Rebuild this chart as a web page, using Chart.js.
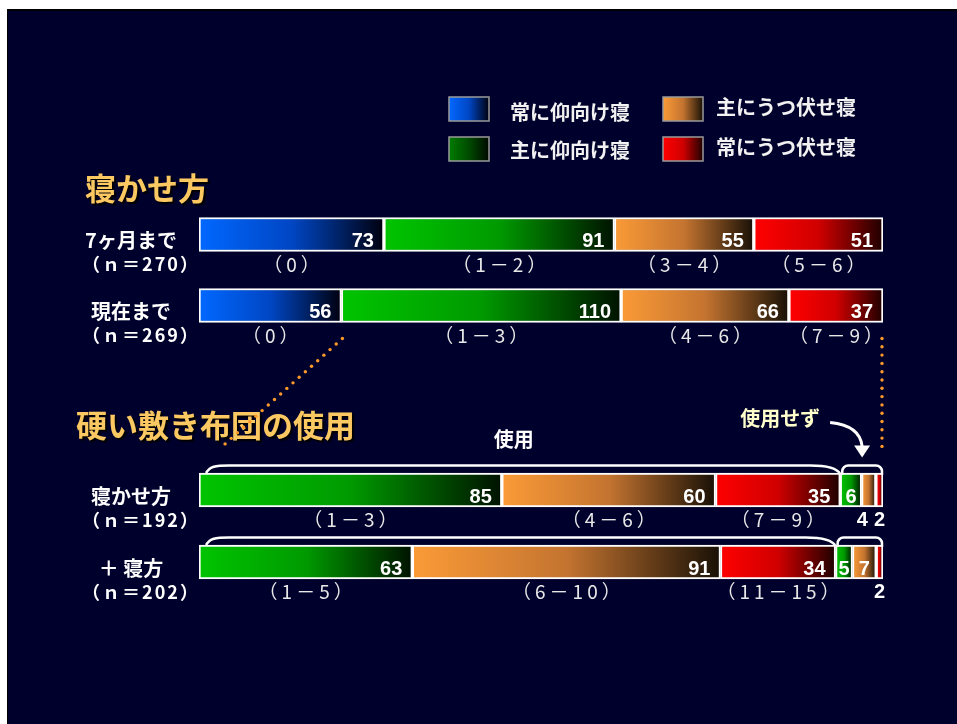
<!DOCTYPE html>
<html lang="ja">
<head>
<meta charset="utf-8">
<title>寝かせ方と硬い敷き布団の使用</title>
<script src="https://cdn.jsdelivr.net/npm/chart.js@4/dist/chart.umd.min.js"></script>
<style>
  html,body{margin:0;padding:0;background:#fff;width:957px;height:724px;overflow:hidden;}
  #slide{position:absolute;left:7px;top:9px;width:950px;height:715px;background:#00002c;
         border-top:2px solid #000;border-left:1px solid #000;box-sizing:border-box;}
  canvas{position:absolute;left:0;top:0;}
</style>
</head>
<body>
<div id="slide"></div>
<canvas id="topChart" width="957" height="724"></canvas>
<canvas id="bottomChart" width="957" height="724"></canvas>
<script>
// ---- 寝かせ方（人数）----
const topRows = ['7ヶ月まで', '現在まで'];
const alwaysSupine = [73, 56];
const mostlySupine = [91, 110];
const mostlyProne  = [55, 66];
const alwaysProne  = [51, 37];
const topRanges = [
  ['（0）', '（1－2）', '（3－4）', '（5－6）'],
  ['（0）', '（1－3）', '（4－6）', '（7－9）']
];

// ---- 硬い敷き布団の使用（人数）----
const bottomRows = ['寝かせ方', '＋ 寝方'];
const usedLow    = [85, 63];
const usedMid    = [60, 91];
const usedHigh   = [35, 34];
const unusedLow  = [6, 5];
const unusedMid  = [4, 7];
const unusedHigh = [2, 2];
const bottomRanges = [
  ['（1－3）', '（4－6）', '（7－9）'],
  ['（1－5）', '（6－10）', '（11－15）']
];

const JP = '"Noto Sans CJK JP", "Noto Sans", sans-serif';
const NUM = 'bold 20px "Liberation Sans", "DejaVu Sans", sans-serif';

// gradient stops per tone: light -> dark
const palette = {
  blue:   ['#0068ff', '#0046c4', '#00000e'],
  green:  ['#00c400', '#009a00', '#001200'],
  orange: ['#fb9b37', '#c47430', '#181006'],
  red:    ['#ff0000', '#d00000', '#1e0000']
};
const keyPalette = Object.assign({}, palette, { green: ['#007c00', '#004a00', '#000800'] });

function fillStops(g, stops){
  g.addColorStop(0, stops[0]);
  g.addColorStop(0.5, stops[1]);
  g.addColorStop(1, stops[2]);
  return g;
}

// each segment gets its own left->right gradient
function gradientFill(c){
  const chart = c.chart;
  const ds = chart.data.datasets[c.datasetIndex];
  const stops = palette[ds.tone];
  const x = chart.scales.x;
  if(c.type !== 'data' || !chart.chartArea || !x) return stops[0];
  let start = 0;
  for(let d = 0; d < c.datasetIndex; d++) start += chart.data.datasets[d].data[c.dataIndex];
  const end = start + ds.data[c.dataIndex];
  const g = chart.ctx.createLinearGradient(x.getPixelForValue(start), 0, x.getPixelForValue(end), 0);
  return fillStops(g, stops);
}

function rowTotals(series){
  return series[0].values.map((_, i) => series.reduce((s, d) => s + d.values[i], 0));
}

function makeDatasets(series, ranges){
  const totals = rowTotals(series);
  return series.map((s, d) => ({
    label: s.label,
    tone: s.tone,
    counts: s.values,
    ranges: s.ranged ? ranges.map(r => r[d]) : null,
    data: s.values.map((v, i) => v / totals[i] * 100),
    backgroundColor: gradientFill,
    borderColor: '#ffffff',
    borderWidth: 2,
    borderSkipped: false,
    barThickness: 34
  }));
}

// row names, n, values and score ranges
const rowText = {
  id: 'rowText',
  afterDatasetsDraw(chart){
    const ctx = chart.ctx, y = chart.scales.y;
    const sets = chart.data.datasets;
    ctx.save();
    ctx.fillStyle = '#ffffff';
    chart.data.labels.forEach((name, i) => {
      const cy = y.getPixelForValue(i);
      const n = sets.reduce((s, ds) => s + ds.counts[i], 0);
      ctx.textAlign = 'center';
      ctx.textBaseline = 'middle';
      ctx.font = 'bold 20px ' + JP;
      ctx.fillText(name, 131, cy + 6);
      ctx.font = 'bold 18px ' + JP;
      ctx.letterSpacing = '2px';
      ctx.fillText('（ｎ＝' + n + '）', 141, cy + 30);
      ctx.letterSpacing = '0px';

      const below = [];
      sets.forEach((ds, d) => {
        const bar = chart.getDatasetMeta(d).data[i];
        const left = Math.min(bar.base, bar.x), right = Math.max(bar.base, bar.x);
        const w = right - left;
        const txt = String(ds.counts[i]);
        ctx.font = NUM;
        const tw = ctx.measureText(txt).width;
        if(w >= 16){
          ctx.textAlign = 'right';
          ctx.textBaseline = 'alphabetic';
          const pad = Math.min(10, Math.max(1, (w - tw) / 2));
          ctx.fillText(txt, right - pad, cy + 12.5);
        }else{
          below.push({ txt, x: (left + right) / 2, w: tw });
        }
        if(ds.ranges){
          ctx.font = '19px ' + JP;
          ctx.letterSpacing = '4px';
          ctx.fillStyle = '#e8e8e8';
          ctx.textAlign = 'center';
          ctx.textBaseline = 'middle';
          ctx.fillText(ds.ranges[i], (left + right) / 2 + 2, cy + 30);
          ctx.letterSpacing = '0px';
          ctx.fillStyle = '#ffffff';
        }
      });

      // values too small for their segment sit under the bar; keep them apart
      for(let k = below.length - 2; k >= 0; k--){
        const gap = below[k + 1].x - below[k].x;
        const need = (below[k + 1].w + below[k].w) / 2 + 6;
        if(gap < need) below[k].x = below[k + 1].x - need;
      }
      ctx.font = NUM;
      ctx.textAlign = 'center';
      ctx.textBaseline = 'middle';
      below.forEach(b => ctx.fillText(b.txt, b.x, cy + 30));
    });
    ctx.restore();
  }
};

function heading(ctx, text, x, y){
  ctx.save();
  ctx.font = 'bold 31px ' + JP;
  ctx.textAlign = 'left';
  ctx.textBaseline = 'middle';
  ctx.shadowColor = 'rgba(0,0,0,0.95)';
  ctx.shadowOffsetX = 2;
  ctx.shadowOffsetY = 2;
  ctx.shadowBlur = 1;
  ctx.fillStyle = '#fcc862';
  ctx.fillText(text, x, y);
  ctx.restore();
}

// title + legend block
const topDecor = {
  id: 'topDecor',
  afterDraw(chart){
    const ctx = chart.ctx;
    heading(ctx, '寝かせ方', 85, 188);
    const slots = [
      {x: 449, y: 97,  tx: 510, ty: 112},
      {x: 449, y: 137, tx: 510, ty: 150},
      {x: 663, y: 97,  tx: 716, ty: 107},
      {x: 663, y: 137, tx: 716, ty: 147}
    ];
    ctx.save();
    chart.data.datasets.forEach((ds, d) => {
      const s = slots[d];
      const g = ctx.createLinearGradient(s.x, 0, s.x + 40, 0);
      ctx.fillStyle = fillStops(g, keyPalette[ds.tone]);
      ctx.fillRect(s.x, s.y, 40, 24);
      ctx.strokeStyle = '#9a9a9a';
      ctx.lineWidth = 1.5;
      ctx.strokeRect(s.x, s.y, 40, 24);
      ctx.fillStyle = '#f2f2f2';
      ctx.font = 'bold 20px ' + JP;
      ctx.textAlign = 'left';
      ctx.textBaseline = 'middle';
      ctx.fillText(ds.label, s.tx, s.ty);
    });
    ctx.restore();
  }
};

function dots(ctx, x1, y1, x2, y2){
  const len = Math.hypot(x2 - x1, y2 - y1);
  const step = 8.3;
  for(let k = 0; k * step <= len; k++){
    const t = k * step / len;
    ctx.beginPath();
    ctx.arc(x1 + (x2 - x1) * t, y1 + (y2 - y1) * t, 1.7, 0, Math.PI * 2);
    ctx.fill();
  }
}

let topChart = null;

// braces over used / not-used groups, arrow, dotted guides
const bottomDecor = {
  id: 'bottomDecor',
  afterDraw(chart){
    const ctx = chart.ctx;
    const area = chart.chartArea;
    heading(ctx, '硬い敷き布団の使用', 76, 425);
    ctx.save();
    ctx.strokeStyle = '#ffffff';
    ctx.lineWidth = 2.5;
    let firstT = 0, firstMid = 0, usedMidX = 0;
    chart.data.labels.forEach((_, i) => {
      const usedEnd = chart.getDatasetMeta(2).data[i];
      const uStart = chart.getDatasetMeta(3).data[i];
      const uEnd = chart.getDatasetMeta(5).data[i];
      const top = usedEnd.y - usedEnd.height / 2;
      const T = top - 7.5;
      const left = area.left, ue = usedEnd.x;
      ctx.beginPath();
      ctx.moveTo(left + 7, top);
      ctx.bezierCurveTo(left + 11, T + 1, left + 16, T, left + 30, T);
      ctx.lineTo(ue - 30, T);
      ctx.bezierCurveTo(ue - 12, T, ue - 3, T + 3, ue, top + 1);
      ctx.stroke();

      const a = uStart.base + 2, b = uEnd.x - 1, r = 6;
      ctx.beginPath();
      ctx.moveTo(a, top + 2);
      ctx.lineTo(a, T + r);
      ctx.arcTo(a, T, a + r, T, r);
      ctx.lineTo(b - r, T);
      ctx.arcTo(b, T, b, T + r, r);
      ctx.lineTo(b, top + 2);
      ctx.stroke();
      if(i === 0){ firstT = T; firstMid = (a + b) / 2; usedMidX = (left + ue) / 2; }
    });

    // labels over the first row
    ctx.fillStyle = '#ffffff';
    ctx.font = 'bold 20px ' + JP;
    ctx.textAlign = 'center';
    ctx.textBaseline = 'middle';
    ctx.fillText('使用', usedMidX - 6, firstT - 26);
    ctx.fillStyle = '#ffffcc';
    ctx.fillText('使用せず', firstMid - 82, firstT - 47);

    // curved arrow to the not-used bracket
    ctx.strokeStyle = '#ffffff';
    ctx.lineWidth = 3;
    ctx.beginPath();
    ctx.moveTo(firstMid - 32, firstT - 43);
    ctx.quadraticCurveTo(firstMid - 2, firstT - 40, firstMid, firstT - 19);
    ctx.stroke();
    ctx.fillStyle = '#ffffff';
    ctx.beginPath();
    ctx.moveTo(firstMid - 8, firstT - 20);
    ctx.lineTo(firstMid + 8, firstT - 20);
    ctx.lineTo(firstMid, firstT - 8);
    ctx.closePath();
    ctx.fill();

    // dotted guides from the "1+ points" part of the upper bar
    if(topChart){
      const seg = topChart.getDatasetMeta(1).data[1];
      const yStart = seg.y + seg.height / 2 + 16;
      const xRight = topChart.chartArea.right - 1;
      ctx.fillStyle = '#ff9a2a';
      const x0 = seg.base + 1, tx = area.left + 2, f = 0.85;
      dots(ctx, x0, yStart, x0 + (tx - x0) * f, yStart + (firstT - yStart) * f);
      dots(ctx, xRight, yStart, xRight, firstT - 11);
    }
    ctx.restore();
  }
};

function baseOptions(pad){
  return {
    indexAxis: 'y',
    responsive: false,
    animation: false,
    events: [],
    layout: { padding: pad },
    plugins: { legend: { display: false }, tooltip: { enabled: false } },
    scales: {
      x: { stacked: true, min: 0, max: 100, display: false },
      y: { stacked: true, display: false }
    }
  };
}

topChart = new Chart(document.getElementById('topChart'), {
  type: 'bar',
  data: {
    labels: topRows,
    datasets: makeDatasets([
      { label: '常に仰向け寝',   tone: 'blue',   values: alwaysSupine, ranged: true },
      { label: '主に仰向け寝',   tone: 'green',  values: mostlySupine, ranged: true },
      { label: '主にうつ伏せ寝', tone: 'orange', values: mostlyProne,  ranged: true },
      { label: '常にうつ伏せ寝', tone: 'red',    values: alwaysProne,  ranged: true }
    ], topRanges)
  },
  options: baseOptions({ left: 199, right: 74, top: 199, bottom: 383 }),
  plugins: [rowText, topDecor]
});

new Chart(document.getElementById('bottomChart'), {
  type: 'bar',
  data: {
    labels: bottomRows,
    datasets: makeDatasets([
      { label: '使用・低', tone: 'green',  values: usedLow,    ranged: true },
      { label: '使用・中', tone: 'orange', values: usedMid,    ranged: true },
      { label: '使用・高', tone: 'red',    values: usedHigh,   ranged: true },
      { label: '使用せず・低', tone: 'green',  values: unusedLow },
      { label: '使用せず・中', tone: 'orange', values: unusedMid },
      { label: '使用せず・高', tone: 'red',    values: unusedHigh }
    ], bottomRanges)
  },
  options: baseOptions({ left: 199, right: 74, top: 454, bottom: 126 }),
  plugins: [rowText, bottomDecor]
});
</script>
</body>
</html>
